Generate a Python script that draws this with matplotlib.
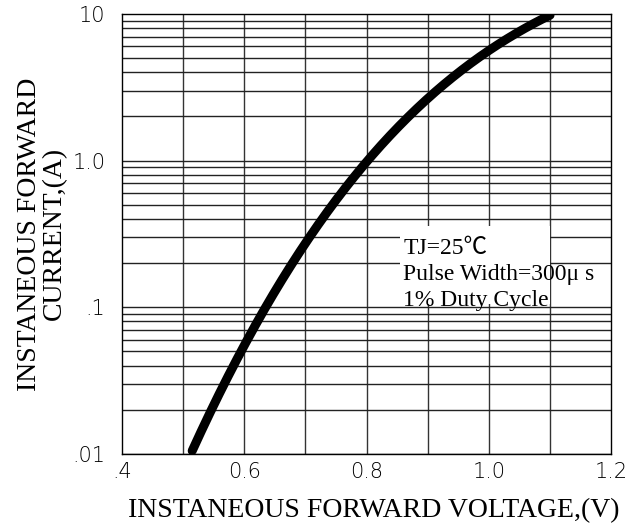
import numpy as np
import matplotlib.pyplot as plt
from matplotlib.patches import Rectangle

# Curve
voltage = [0.515, 0.55, 0.6, 0.637, 0.7, 0.8, 0.9, 1.0, 1.1]
current = [0.01, 0.024, 0.053, 0.1, 0.26, 1.05, 2.7, 5.3, 10.0]

xticks = [0.4, 0.6, 0.8, 1.0, 1.2]
xtick_labels = ['.4', '0.6', '0.8', '1.0', '1.2']
yticks = [0.01, 0.1, 1.0, 10.0]
ytick_labels = ['.01', '.1', '1.0', '10']

fig = plt.figure(figsize=(6.38, 5.31), dpi=100)
ax = fig.add_axes([0.191, 0.145, 0.767, 0.829])

ax.set_yscale('log')
ax.set_xlim(0.4, 1.2)
ax.set_ylim(0.01, 10)

# grid: every 0.1 V, log major + minor
for v in np.arange(0.5, 1.15, 0.1):
    ax.axvline(v, color='#333333', lw=1.0, zorder=1)
for dec in [0.01, 0.1, 1.0]:
    for k in range(1, 10):
        ax.axhline(dec * k, color='#222222', lw=1.0, zorder=1)

# smooth curve through the read points (in log space)
vv = np.linspace(voltage[0], voltage[-1], 200)
coef = np.polyfit(voltage, np.log10(current), 3)
ax.plot(vv, 10 ** np.polyval(coef, vv), color='black', lw=6.5, solid_capstyle='round', zorder=3)

ax.set_xticks(xticks)
ax.set_xticklabels(xtick_labels)
ax.set_yticks(yticks)
ax.set_yticklabels(ytick_labels)
ax.minorticks_off()
ax.tick_params(length=0, labelsize=15, pad=6)
for lab in ax.get_xticklabels() + ax.get_yticklabels():
    lab.set_family('DejaVu Sans')
    lab.set_fontweight('light')
ax.tick_params(axis='y', pad=12)

for s in ax.spines.values():
    s.set_color('black')
    s.set_linewidth(1.0)

# white patch behind the note (grid lines are cut there)
ax.add_patch(Rectangle((0.855, 0.105), 1.1 - 0.855, 0.36 - 0.105, facecolor='white',
                       edgecolor='none', zorder=1.5))
ax.text(0.86, 0.095, 'TJ=25\u2103\nPulse Width=300\u03bc s\n1% Duty Cycle',
        family=['Liberation Serif', 'Noto Sans CJK SC'], fontsize=17,
        va='bottom', ha='left', linespacing=1.3, zorder=2)

ax.set_xlabel('INSTANEOUS FORWARD VOLTAGE,(V)', family='Liberation Serif', fontsize=20)
ax.xaxis.set_label_coords(0.514, -0.1)
ax.set_ylabel('INSTANEOUS FORWARD\nCURRENT,(A)', family='Liberation Serif', fontsize=20,
              linespacing=1.0)
ax.yaxis.set_label_coords(-0.164, 0.5)
ax.yaxis.label.set_va('center')

fig.savefig('out.png', dpi=100)
